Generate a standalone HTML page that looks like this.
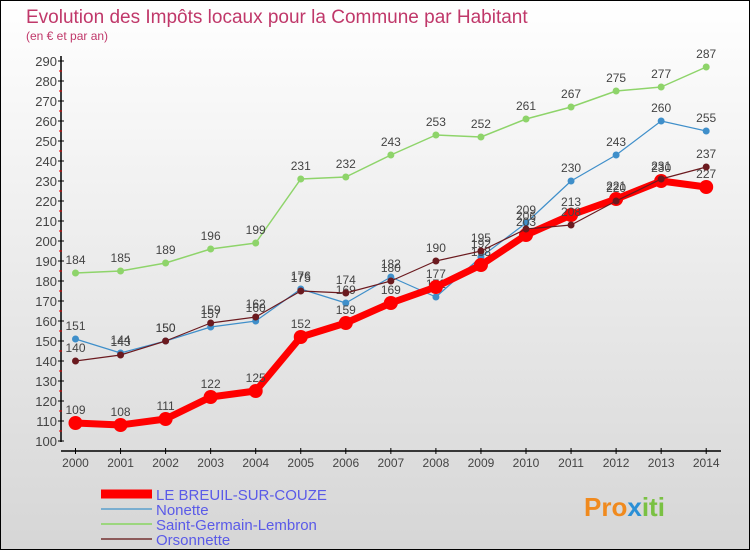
<!DOCTYPE html>
<html><head><meta charset="utf-8"><style>
body{margin:0}
#c{width:748px;height:548px;border:1px solid #000;background:linear-gradient(#fff,#d6d6d6);position:relative;overflow:hidden;font-family:"Liberation Sans",sans-serif}
</style></head><body>
<div id="c">
<svg width="748" height="548" id="s" style="position:absolute;left:0;top:0">
<text x="25" y="22" font-size="19" fill="#c0386a">Evolution des Impôts locaux pour la Commune par Habitant</text>
<text x="25" y="39" font-size="12" fill="#c0386a">(en € et par an)</text>
<g id="axes"></g><g id="series"></g><g id="legend"></g>
<text x="583" y="515" font-size="26" font-weight="bold" fill="#f08a1e">Pro<tspan fill="#2a8fd6">x</tspan><tspan fill="#7ac143">iti</tspan></text>
</svg></div>
<script>
const years=[2000,2001,2002,2003,2004,2005,2006,2007,2008,2009,2010,2011,2012,2013,2014];
const breuil=[109,108,111,122,125,152,159,169,177,188,203,213,221,230,227];
const nonette=[151,144,150,157,160,176,169,182,172,192,209,230,243,260,255];
const stgermain=[184,185,189,196,199,231,232,243,253,252,261,267,275,277,287];
const orsonnette=[140,143,150,159,162,175,174,180,190,195,206,208,220,231,237];
const yTicks=[100,110,120,130,140,150,160,170,180,190,200,210,220,230,240,250,260,270,280,290];
const NS="http://www.w3.org/2000/svg";
function x(i){return 74.5+i*45.05;}
function y(v){return 60+(290-v)*2;}
function mk(t,a,p){const e=document.createElementNS(NS,t);for(const k in a)e.setAttribute(k,a[k]);p.appendChild(e);return e;}
const ax=document.getElementById('axes');
let l=mk('line',{x1:60,y1:55,x2:60,y2:441,stroke:'#000','stroke-width':1.5},ax);


l=mk('line',{x1:60,y1:450,x2:720,y2:450,stroke:'#000','stroke-width':1.5},ax);


yTicks.forEach(v=>{
 mk('line',{x1:57,y1:y(v),x2:63,y2:y(v),stroke:'#000'},ax);
 if(v<290)mk('line',{x1:58,y1:y(v+5),x2:61,y2:y(v+5),stroke:'#e00'},ax);
 const t=mk('text',{x:56,y:y(v)+5,'text-anchor':'end','font-size':13,fill:'#444'},ax);t.textContent=v;
 
 
});
years.forEach((yr,i)=>{
 mk('line',{x1:x(i),y1:447,x2:x(i),y2:453,stroke:'#000'},ax);
 const t=mk('text',{x:x(i),y:466,'text-anchor':'middle','font-size':12,fill:'#444'},ax);t.textContent=yr;
 
 
});
const sg=document.getElementById('series');
function series(d,col,w,r,name){
 const g=mk('g',{},sg);
 
 
 mk('polyline',{points:d.map((v,i)=>x(i)+','+y(v)).join(' '),fill:'none',stroke:col,'stroke-width':w,'stroke-linejoin':'round'},g);
 d.forEach((v,i)=>{
  const c=mk('circle',{cx:x(i),cy:y(v),r:r,fill:col},g);
  
  
  const t=mk('text',{x:x(i),y:y(v)-9,'text-anchor':'middle','font-size':12,fill:'#444'},g);t.textContent=v;
  
  
 });
}
series(stgermain,'#8ed46a',1.5,3.5,'saint-germain-lembron-series');
series(nonette,'#3f8fca',1.2,3.5,'nonette-series');
series(breuil,'#f00',7,7,'le-breuil-sur-couze-series');
series(orsonnette,'#6b1a1f',1.2,3.5,'orsonnette-series');
const lg=document.getElementById('legend');
[['LE BREUIL-SUR-COUZE','#f00',9],['Nonette','#7aaed0',2],['Saint-Germain-Lembron','#9cd67e',2],['Orsonnette','#8c5a5a',2]].forEach((e,i)=>{
 const yy=493+i*15;
 const g=mk('g',{},lg);
 
 
 mk('line',{x1:100,y1:yy,x2:151,y2:yy,stroke:e[1],'stroke-width':e[2]},g);
 const t=mk('text',{x:155,y:yy+6,'font-size':15,fill:'#5a5ae8'},g);t.textContent=e[0];
});
</script></body></html>
